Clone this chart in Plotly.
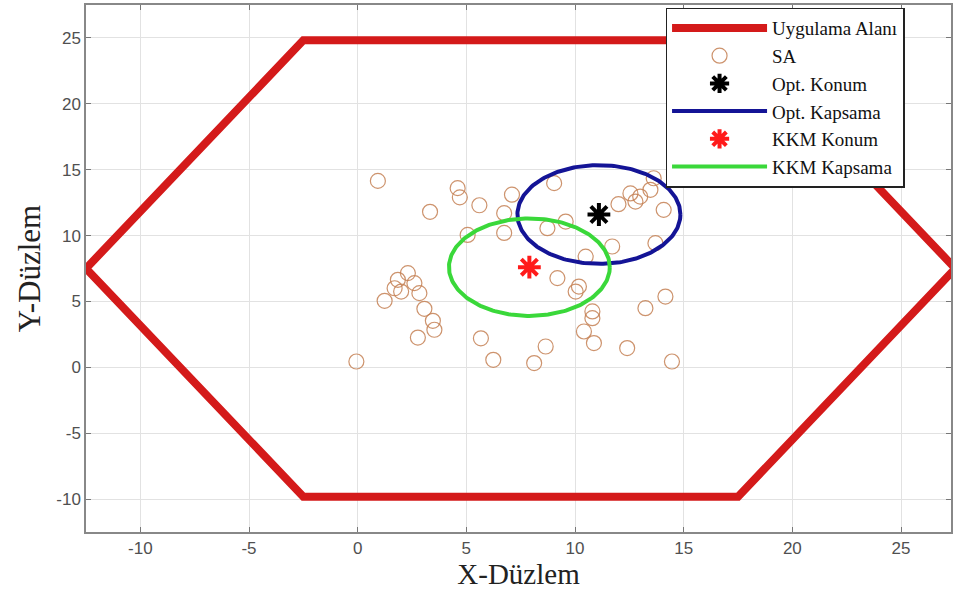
import numpy as np
import plotly.graph_objects as go

# Application area: hexagon vertices
hex_x = [-12.5, -2.5, 17.5, 27.5, 17.5, -2.5, -12.5]
hex_y = [7.5, 24.82, 24.82, 7.5, -9.82, -9.82, 7.5]

# Subscriber positions (SA)
sa_x = [0.93, 4.6, 4.7, 5.6, 3.33, 7.1, 6.74, 6.74, 5.06, 2.31, 1.85, 2.61, 1.7, 2.0,
        2.84, 1.24, 3.07, 3.46, 3.53, 2.77, -0.06, 5.67, 6.24, 9.04, 9.57, 8.73, 12.0,
        12.55, 12.78, 13.0, 13.47, 13.62, 14.08, 13.7, 11.71, 10.49, 9.19, 10.18, 10.03,
        14.16, 13.24, 10.8, 10.8, 10.41, 10.87, 8.65, 8.12, 12.4, 14.46]
sa_y = [14.15, 13.6, 12.9, 12.3, 11.8, 13.1, 11.7, 10.2, 10.05, 7.15, 6.64, 6.39, 6.0, 5.75,
        5.63, 5.05, 4.44, 3.53, 2.85, 2.26, 0.44, 2.2, 0.57, 13.98, 11.06, 10.56, 12.38,
        13.2, 12.58, 12.96, 13.47, 14.35, 11.95, 9.42, 9.17, 8.4, 6.77, 6.13, 5.75,
        5.37, 4.49, 4.24, 3.73, 2.72, 1.84, 1.58, 0.32, 1.46, 0.44]

# Optimal and KKM base-station positions with coverage radii
opt_center = (11.1, 11.6)
opt_radius = 3.75
kkm_center = (7.9, 7.6)
kkm_radius = 3.7

tick_vals = [-10, -5, 0, 5, 10, 15, 20, 25]
tick_text = ["-10", "-5", "0", "5", "10", "15", "20", "25"]


def circle(center, radius, n=241):
    t = np.linspace(0, 2 * np.pi, n)
    return center[0] + radius * np.cos(t), center[1] + radius * np.sin(t)


opt_cx, opt_cy = circle(opt_center, opt_radius)
kkm_cx, kkm_cy = circle(kkm_center, kkm_radius)

fig = go.Figure()
fig.add_trace(go.Scatter(x=hex_x, y=hex_y, mode="lines", name="Uygulama Alanı",
                         line=dict(color="#d41a1a", width=8)))
fig.add_trace(go.Scatter(x=sa_x, y=sa_y, mode="markers", name="SA",
                         marker=dict(symbol="circle-open", size=15,
                                     color="rgba(196,128,84,0.85)",
                                     line=dict(width=1.2))))
fig.add_trace(go.Scatter(x=[opt_center[0]], y=[opt_center[1]], mode="markers",
                         name="Opt. Konum",
                         marker=dict(symbol="asterisk-open", size=19, color="black",
                                     line=dict(width=4, color="black"))))
fig.add_trace(go.Scatter(x=opt_cx, y=opt_cy, mode="lines", name="Opt. Kapsama",
                         line=dict(color="#141496", width=4)))
fig.add_trace(go.Scatter(x=[kkm_center[0]], y=[kkm_center[1]], mode="markers",
                         name="KKM Konum",
                         marker=dict(symbol="asterisk-open", size=19, color="#ff1a1a",
                                     line=dict(width=4, color="#ff1a1a"))))
fig.add_trace(go.Scatter(x=kkm_cx, y=kkm_cy, mode="lines", name="KKM Kapsama",
                         line=dict(color="#3ad83a", width=4)))

axis_common = dict(
    tickvals=tick_vals, ticktext=tick_text,
    ticks="inside", ticklen=5, tickcolor="#777",
    showline=True, linecolor="#888", linewidth=1.5, mirror="ticks",
    showgrid=True, gridcolor="#e2e2e2", gridwidth=1,
    zeroline=False,
    tickfont=dict(family="Liberation Sans, Arial, sans-serif", size=17, color="#505050"),
)

fig.update_layout(
    width=955, height=606,
    margin=dict(l=86, r=2, t=5, b=74),
    paper_bgcolor="white", plot_bgcolor="white",
    xaxis=dict(range=[-12.5, 27.3], title=dict(text="X-Düzlem", standoff=6,
               font=dict(family="Liberation Serif, Times New Roman, serif", size=29, color="#222")),
               **axis_common),
    yaxis=dict(range=[-12.5, 27.5], title=dict(text="Y-Düzlem", standoff=6,
               font=dict(family="Liberation Serif, Times New Roman, serif", size=31, color="#222")),
               **axis_common),
    legend=dict(x=0.67, y=0.995, xanchor="left", yanchor="top",
                xref="paper", yref="paper",
                bgcolor="white", bordercolor="#222", borderwidth=1.5,
                font=dict(family="Liberation Serif, Times New Roman, serif", size=19, color="#111"),
                tracegroupgap=0, itemwidth=95),
    showlegend=True,
)

fig.write_html("out.html")
